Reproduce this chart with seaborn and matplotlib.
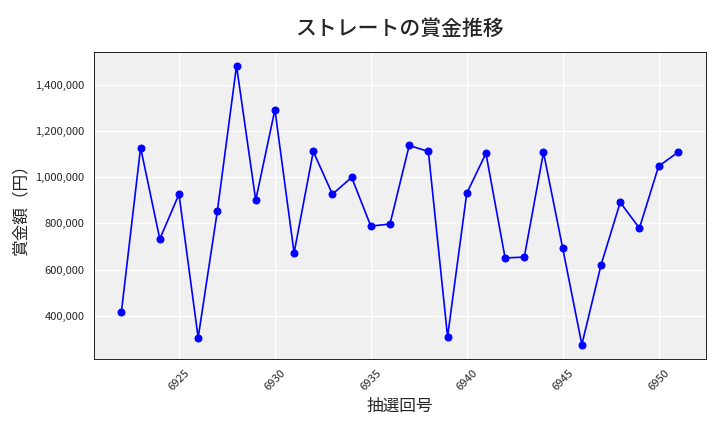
import matplotlib
matplotlib.use("Agg")
import matplotlib.pyplot as plt
import seaborn as sns
import pandas as pd
from matplotlib.ticker import FuncFormatter

draws = list(range(6922, 6952))
prizes = [417000, 1128000, 732000, 926000, 305000, 853000, 1482000, 900000, 1292000, 672000,
          1111000, 926000, 999000, 788000, 797000, 1137000, 1111000, 309000, 930000, 1103000,
          650000, 654000, 1107000, 693000, 275000, 620000, 891000, 779000, 1047000, 1107000]

sns.set_style("whitegrid")
plt.rcParams['font.family'] = ['Noto Sans CJK JP', 'DejaVu Sans']

df = pd.DataFrame({"draw": draws, "prize": prizes})
fig, ax = plt.subplots(figsize=(7.2, 4.32), dpi=100)
ax.set_facecolor("#f0f0f0")
sns.lineplot(data=df, x="draw", y="prize", ax=ax, color="blue", marker="o",
             markersize=5, markeredgecolor="blue", linewidth=1.2)
ax.set_title("ストレートの賞金推移", fontsize=15, fontweight="medium", pad=12)
ax.set_xlabel("抽選回号", fontsize=12)
ax.set_ylabel("賞金額（円）", fontsize=12)
ax.yaxis.set_major_formatter(FuncFormatter(lambda v, p: f"{int(v):,}"))
ax.set_xticks([6925, 6930, 6935, 6940, 6945, 6950])
ax.tick_params(axis="x", labelrotation=45, labelsize=8, length=3)
ax.tick_params(axis="y", labelsize=8, length=3)
ax.grid(color="white", linewidth=1)
for s in ax.spines.values():
    s.set_color("black"); s.set_linewidth(0.6)
fig.subplots_adjust(left=0.13, right=0.98, top=0.88, bottom=0.17)
fig.savefig("out.png", dpi=100)
